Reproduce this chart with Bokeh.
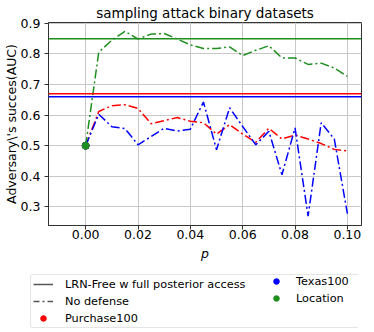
from bokeh.plotting import figure
from bokeh.layouts import column
from bokeh.models import Legend, LegendItem, FixedTicker, PrintfTickFormatter, Span, Range1d
from bokeh.embed import file_html
from bokeh.resources import INLINE

p_vals = [0.0, 0.005, 0.01, 0.015, 0.02, 0.025, 0.03, 0.035, 0.04, 0.045, 0.05,
          0.055, 0.06, 0.065, 0.07, 0.075, 0.08, 0.085, 0.09, 0.095, 0.1]
purchase = [0.5, 0.612, 0.631, 0.634, 0.622, 0.572, 0.582, 0.592, 0.580, 0.575, 0.538,
            0.569, 0.538, 0.511, 0.557, 0.522, 0.535, 0.522, 0.507, 0.488, 0.483]
texas = [0.5, 0.603, 0.562, 0.556, 0.503, 0.53, 0.557, 0.548, 0.554, 0.643, 0.487,
         0.624, 0.563, 0.503, 0.547, 0.405, 0.558, 0.27, 0.575, 0.522, 0.278]
location = [0.5, 0.806, 0.845, 0.874, 0.849, 0.865, 0.867, 0.849, 0.83, 0.818, 0.818,
            0.823, 0.795, 0.812, 0.827, 0.787, 0.787, 0.766, 0.77, 0.754, 0.727]
lrn_free = {"Purchase100": 0.67, "Texas100": 0.66, "Location": 0.85}
x_ticks = [0.0, 0.02, 0.04, 0.06, 0.08, 0.1]
y_ticks = [0.3, 0.4, 0.5, 0.6, 0.7, 0.8, 0.9]

RED, BLUE, GREEN = "#ff0000", "#0000ff", "#1e8f1e"
FONT = "DejaVu Sans"

p = figure(frame_width=313, frame_height=203,
           x_range=(-0.0142, 0.1054), y_range=(0.239, 0.903),
           output_backend="svg", toolbar_location=None,
           min_border_left=47, min_border_right=1, min_border_top=22, min_border_bottom=42)
p.frame_align = False

p.title.text = "sampling attack binary datasets"
p.title.align = "center"
p.title.text_font = FONT
p.title.text_font_size = "13.5px"
p.title.text_font_style = "normal"
p.title.text_color = "#000000"
p.title.standoff = 3
p.title.offset = 0

for ax in (p.xaxis[0], p.yaxis[0]):
    ax.major_label_text_font = FONT
    ax.major_label_text_font_size = "12.5px"
    ax.major_label_text_color = "#000000"
    ax.axis_label_text_font = FONT
    ax.axis_label_text_font_size = "12.5px"
    ax.axis_label_text_color = "#000000"
    ax.minor_tick_line_color = None
    ax.major_tick_in = 0
    ax.major_tick_out = 4
    ax.axis_line_color = "#333333"
    ax.major_tick_line_color = "#333333"
    ax.major_label_standoff = 4

p.xaxis.major_label_standoff = 0
p.xaxis.ticker = FixedTicker(ticks=x_ticks)
p.xaxis.formatter = PrintfTickFormatter(format="%.2f")
p.yaxis.ticker = FixedTicker(ticks=y_ticks)
p.yaxis.formatter = PrintfTickFormatter(format="%.1f")
p.xaxis.axis_label = "p"
p.xaxis.axis_label_text_font_style = "italic"
p.xaxis.axis_label_standoff = 4
p.yaxis.axis_label = "Adversary\\'s succes(AUC)"
p.yaxis.axis_label_text_font_style = "normal"
p.yaxis.axis_label_standoff = -1

p.grid.grid_line_color = "#c8c8c8"
p.grid.grid_line_width = 1
p.outline_line_color = "#333333"
p.outline_line_width = 1

dash = "9 3 2 3"
for vals, col in ((purchase, RED), (texas, BLUE), (location, GREEN)):
    p.line(p_vals, vals, line_color=col, line_width=1.5, line_dash=dash)

for name, col in (("Purchase100", RED), ("Texas100", BLUE), ("Location", GREEN)):
    p.add_layout(Span(location=lrn_free[name], dimension="width",
                      line_color=col, line_width=1.5))

for name, vals, col in (("Purchase100", purchase, RED), ("Texas100", texas, BLUE),
                        ("Location", location, GREEN)):
    p.scatter([p_vals[0]], [vals[0]], size=7, fill_color=col, line_color=col)

# legend panel: separate figure holding only legend proxies (drawn off-screen)
lg = figure(width=358, height=63, x_range=Range1d(0, 1), y_range=Range1d(0, 1),
            output_backend="svg", toolbar_location=None,
            x_axis_type=None, y_axis_type=None,
            min_border_left=0, min_border_right=0, min_border_top=0, min_border_bottom=0)
lg.frame_align = False
lg.outline_line_color = None
lg.grid.visible = False
proxy_solid = lg.line([-1, -1], [-1, -1], line_color="#555555", line_width=1.5)
proxy_dash = lg.line([-1, -1], [-1, -1], line_color="#555555", line_width=1.5, line_dash="6 3 2 3")
proxy_dots = {}
for name, col in (("Purchase100", RED), ("Texas100", BLUE), ("Location", GREEN)):
    proxy_dots[name] = lg.scatter([-1], [-1], size=7, fill_color=col, line_color=col)

def style(lgd, standoff):
    lgd.label_text_font = FONT
    lgd.label_text_font_size = "11.3px"
    lgd.label_text_color = "#000000"
    lgd.label_height = 14
    lgd.glyph_height = 14
    lgd.glyph_width = 20
    lgd.label_standoff = standoff
    lgd.spacing = 3
    lgd.padding = 2
    lgd.margin = 0

legend_a = Legend(items=[
    LegendItem(label="LRN-Free w full posterior access", renderers=[proxy_solid]),
    LegendItem(label="No defense", renderers=[proxy_dash]),
    LegendItem(label="Purchase100", renderers=[proxy_dots["Purchase100"]]),
], location=(30, 2), orientation="vertical")
style(legend_a, 12)
legend_a.label_width = 294
legend_a.border_line_color = "#cccccc"
legend_a.border_line_width = 1
legend_a.border_radius = 3

legend_b = Legend(items=[
    LegendItem(label="Texas100", renderers=[proxy_dots["Texas100"]]),
    LegendItem(label="Location", renderers=[proxy_dots["Location"]]),
], location=(266, 25), orientation="vertical")
style(legend_b, 10)
legend_b.border_line_color = None
legend_b.background_fill_alpha = 0

lg.add_layout(legend_a, "center")
lg.add_layout(legend_b, "center")

layout = column(p, lg, spacing=0)
open("out.html", "w").write(file_html(layout, INLINE))
